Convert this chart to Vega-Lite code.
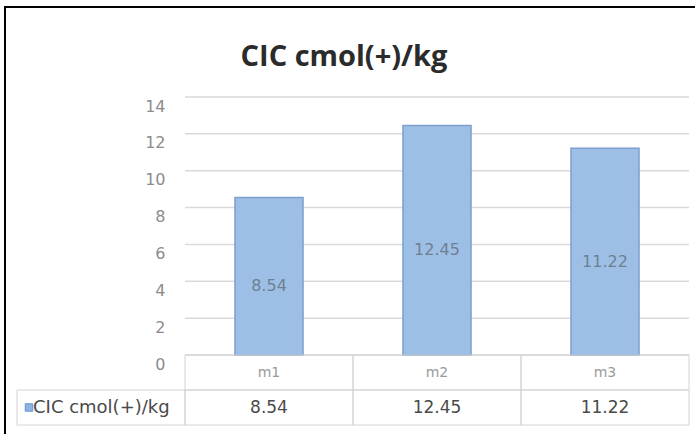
{
  "$schema": "https://vega.github.io/schema/vega-lite/v6.json",
  "width": 720,
  "height": 450,
  "autosize": {"type": "none"},
  "padding": {"left": 5, "top": 7, "right": 0, "bottom": 0},
  "background": "white",
  "title": {"text": "CIC cmol(+)/kg", "font": "Open Sans", "fontSize": 29, "fontWeight": "bold", "color": "#2b2b2b", "anchor": "middle", "frame": "group", "baseline": "alphabetic", "offset": -88, "dx": -21},
  "config": {"view": {"stroke": "#000000", "strokeWidth": 2, "fill": "white"}},
  "datasets": {
    "cic": [{"m": "m1", "v": 8.54}, {"m": "m2", "v": 12.45}, {"m": "m3", "v": 11.22}],
    "grid": [{"g": 0}, {"g": 2}, {"g": 4}, {"g": 6}, {"g": 8}, {"g": 10}, {"g": 12}, {"g": 14}],
    "series": [{"s": "CIC cmol(+)/kg"}]
  },
  "resolve": {"scale": {"y": "independent"}},
  "layer": [
    {
      "layer": [
        {
          "data": {"name": "grid"},
          "mark": {"type": "rule", "color": "#d9d9d9", "strokeWidth": 1.5},
          "encoding": {
            "y": {"field": "g", "type": "quantitative", "scale": {"domain": [0, 14], "range": [348, 90], "nice": false, "zero": false},
              "axis": {"title": null, "grid": false, "domain": false, "ticks": false, "labelPadding": 0, "offset": -160, "labelFont": "DejaVu Sans", "labelFontSize": 16, "labelColor": "#8c8c8c", "labelOffset": 9, "values": [0, 2, 4, 6, 8, 10, 12, 14]}},
            "x": {"datum": "m1", "type": "nominal", "bandPosition": 0, "scale": {"domain": ["leg", "m1", "m2", "m3"], "range": [12, 684], "paddingInner": 0, "paddingOuter": 0}, "axis": null},
            "x2": {"datum": "m3", "bandPosition": 1}
          }
        },
        {
          "data": {"name": "cic"},
          "mark": {"type": "bar", "width": {"band": 0.405}, "fill": "#9dbfe6", "stroke": "#7ba0d0", "strokeWidth": 1.5},
          "encoding": {
            "x": {"field": "m", "type": "nominal", "scale": {"domain": ["leg", "m1", "m2", "m3"], "range": [12, 684], "paddingInner": 0, "paddingOuter": 0}, "axis": null},
            "y": {"field": "v", "type": "quantitative", "scale": {"domain": [0, 14], "range": [348, 90], "nice": false, "zero": false}}
          }
        },
        {
          "data": {"name": "cic"},
          "transform": [{"calculate": "datum.v / 2", "as": "mid"}],
          "mark": {"type": "text", "font": "DejaVu Sans", "fontSize": 16, "color": "#6e7f92", "dy": 10},
          "encoding": {
            "x": {"field": "m", "type": "nominal", "scale": {"domain": ["leg", "m1", "m2", "m3"], "range": [12, 684], "paddingInner": 0, "paddingOuter": 0}, "axis": null},
            "y": {"field": "mid", "type": "quantitative", "scale": {"domain": [0, 14], "range": [348, 90], "nice": false, "zero": false}},
            "text": {"field": "v", "type": "quantitative", "format": ".2f"}
          }
        }
      ]
    },
    {
      "layer": [
        {
          "data": {"name": "cic"},
          "transform": [{"fold": ["m", "v"], "as": ["row", "cell"]}],
          "mark": {"type": "rect", "fill": "transparent", "stroke": "#d4d4d4", "strokeWidth": 1},
          "encoding": {
            "x": {"field": "m", "type": "nominal", "scale": {"domain": ["leg", "m1", "m2", "m3"], "range": [12, 684], "paddingInner": 0, "paddingOuter": 0}, "axis": null},
            "y": {"field": "row", "type": "nominal", "scale": {"domain": ["m", "v"], "range": [348, 418], "paddingInner": 0, "paddingOuter": 0}, "axis": null}
          }
        },
        {
          "data": {"name": "cic"},
          "transform": [{"fold": ["m", "v"], "as": ["row", "cell"]}],
          "mark": {"type": "text", "font": "DejaVu Sans"},
          "encoding": {
            "x": {"field": "m", "type": "nominal", "scale": {"domain": ["leg", "m1", "m2", "m3"], "range": [12, 684], "paddingInner": 0, "paddingOuter": 0}, "axis": null},
            "y": {"field": "row", "type": "nominal", "scale": {"domain": ["m", "v"], "range": [348, 418], "paddingInner": 0, "paddingOuter": 0}, "axis": null},
            "text": {"field": "cell", "type": "nominal"},
            "color": {"field": "row", "type": "nominal", "scale": {"domain": ["m", "v"], "range": ["#9a9a9a", "#4a4a4a"]}, "legend": null},
            "size": {"field": "row", "type": "nominal", "scale": {"domain": ["m", "v"], "range": [14, 17]}, "legend": null}
          }
        },
        {
          "data": {"name": "series"},
          "mark": {"type": "rect", "fill": "transparent", "stroke": "#d4d4d4", "strokeWidth": 1},
          "encoding": {
            "x": {"datum": "leg", "type": "nominal", "scale": {"domain": ["leg", "m1", "m2", "m3"], "range": [12, 684], "paddingInner": 0, "paddingOuter": 0}, "axis": null},
            "y": {"datum": "v", "type": "nominal", "scale": {"domain": ["m", "v"], "range": [348, 418], "paddingInner": 0, "paddingOuter": 0}, "axis": null}
          }
        },
        {
          "data": {"name": "series"},
          "mark": {"type": "point", "shape": "square", "filled": true, "size": 56, "fill": "#8db3e2", "stroke": "#6a97cf", "strokeWidth": 1, "opacity": 1, "xOffset": 12},
          "encoding": {
            "x": {"datum": "leg", "type": "nominal", "bandPosition": 0, "scale": {"domain": ["leg", "m1", "m2", "m3"], "range": [12, 684], "paddingInner": 0, "paddingOuter": 0}, "axis": null},
            "y": {"datum": "v", "type": "nominal", "scale": {"domain": ["m", "v"], "range": [348, 418], "paddingInner": 0, "paddingOuter": 0}, "axis": null}
          }
        },
        {
          "data": {"name": "series"},
          "mark": {"type": "text", "font": "DejaVu Sans", "fontSize": 18, "color": "#4a4a4a", "align": "left", "dx": 16},
          "encoding": {
            "x": {"datum": "leg", "type": "nominal", "bandPosition": 0, "scale": {"domain": ["leg", "m1", "m2", "m3"], "range": [12, 684], "paddingInner": 0, "paddingOuter": 0}, "axis": null},
            "y": {"datum": "v", "type": "nominal", "scale": {"domain": ["m", "v"], "range": [348, 418], "paddingInner": 0, "paddingOuter": 0}, "axis": null},
            "text": {"field": "s", "type": "nominal"}
          }
        }
      ]
    }
  ]
}
